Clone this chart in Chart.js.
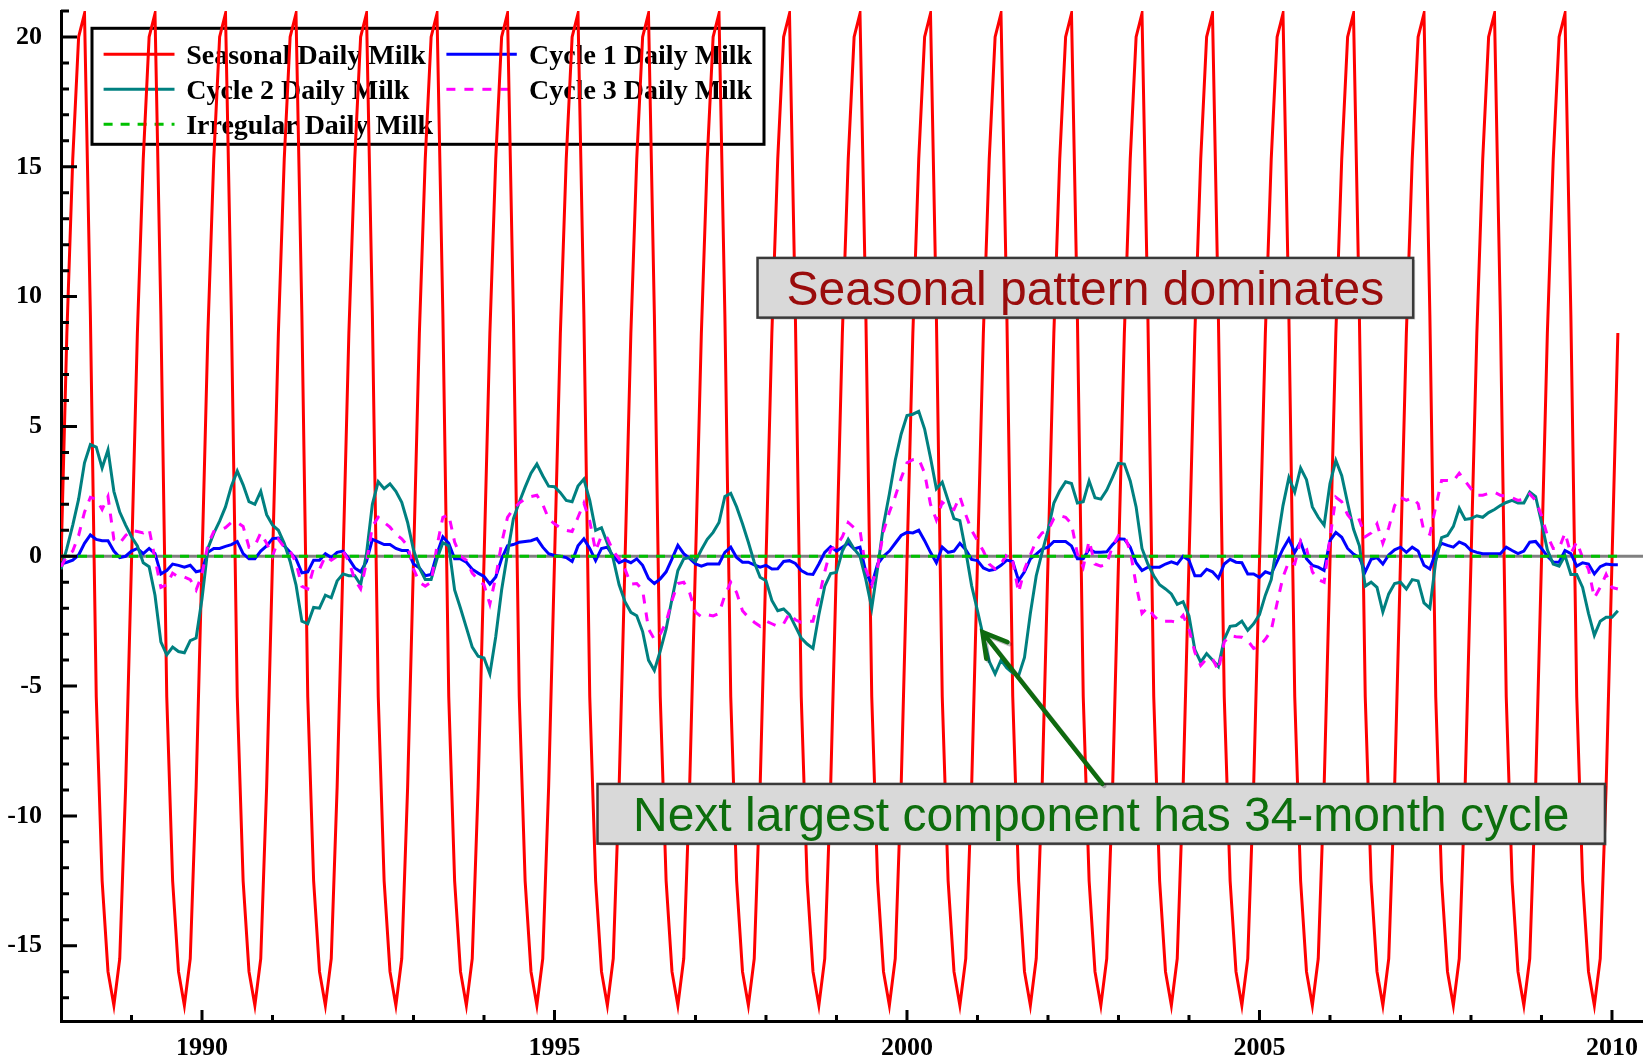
<!DOCTYPE html>
<html>
<head>
<meta charset="utf-8">
<script src="https://cdn.jsdelivr.net/npm/chart.js@4.4.0/dist/chart.umd.min.js"></script>
<style>
html,body{margin:0;padding:0;background:#ffffff;overflow:hidden;}
#wrap{position:relative;width:1643px;height:1057px;}
</style>
</head>
<body>
<div id="wrap"><canvas id="c"></canvas></div>
<script>
// ---------------- data ----------------
const startYear = 1988;            // monthly observations from January 1988
const seriesNames = ['Seasonal Daily Milk', 'Cycle 1 Daily Milk', 'Cycle 2 Daily Milk', 'Cycle 3 Daily Milk', 'Irregular Daily Milk'];
const xTickYears = [1990, 1995, 2000, 2005, 2010];
const yTickValues = [-15, -10, -5, 0, 5, 10, 15, 20];

const seasonal = [
  -0.2, 8.6, 15.3, 20.0, 20.9, 9.3, -5.4, -12.5, -16.0, -17.3, -15.5, -8.9,
  -0.2, 8.6, 15.3, 20.0, 20.9, 9.3, -5.4, -12.5, -16.0, -17.3, -15.5, -8.9,
  -0.2, 8.6, 15.3, 20.0, 20.9, 9.3, -5.4, -12.5, -16.0, -17.3, -15.5, -8.9,
  -0.2, 8.6, 15.3, 20.0, 20.9, 9.3, -5.4, -12.5, -16.0, -17.3, -15.5, -8.9,
  -0.2, 8.6, 15.3, 20.0, 20.9, 9.3, -5.4, -12.5, -16.0, -17.3, -15.5, -8.9,
  -0.2, 8.6, 15.3, 20.0, 20.9, 9.3, -5.4, -12.5, -16.0, -17.3, -15.5, -8.9,
  -0.2, 8.6, 15.3, 20.0, 20.9, 9.3, -5.4, -12.5, -16.0, -17.3, -15.5, -8.9,
  -0.2, 8.6, 15.3, 20.0, 20.9, 9.3, -5.4, -12.5, -16.0, -17.3, -15.5, -8.9,
  -0.2, 8.6, 15.3, 20.0, 20.9, 9.3, -5.4, -12.5, -16.0, -17.3, -15.5, -8.9,
  -0.2, 8.6, 15.3, 20.0, 20.9, 9.3, -5.4, -12.5, -16.0, -17.3, -15.5, -8.9,
  -0.2, 8.6, 15.3, 20.0, 20.9, 9.3, -5.4, -12.5, -16.0, -17.3, -15.5, -8.9,
  -0.2, 8.6, 15.3, 20.0, 20.9, 9.3, -5.4, -12.5, -16.0, -17.3, -15.5, -8.9,
  -0.2, 8.6, 15.3, 20.0, 20.9, 9.3, -5.4, -12.5, -16.0, -17.3, -15.5, -8.9,
  -0.2, 8.6, 15.3, 20.0, 20.9, 9.3, -5.4, -12.5, -16.0, -17.3, -15.5, -8.9,
  -0.2, 8.6, 15.3, 20.0, 20.9, 9.3, -5.4, -12.5, -16.0, -17.3, -15.5, -8.9,
  -0.2, 8.6, 15.3, 20.0, 20.9, 9.3, -5.4, -12.5, -16.0, -17.3, -15.5, -8.9,
  -0.2, 8.6, 15.3, 20.0, 20.9, 9.3, -5.4, -12.5, -16.0, -17.3, -15.5, -8.9,
  -0.2, 8.6, 15.3, 20.0, 20.9, 9.3, -5.4, -12.5, -16.0, -17.3, -15.5, -8.9,
  -0.2, 8.6, 15.3, 20.0, 20.9, 9.3, -5.4, -12.5, -16.0, -17.3, -15.5, -8.9,
  -0.2, 8.6, 15.3, 20.0, 20.9, 9.3, -5.4, -12.5, -16.0, -17.3, -15.5, -8.9,
  -0.2, 8.6, 15.3, 20.0, 20.9, 9.3, -5.4, -12.5, -16.0, -17.3, -15.5, -8.9,
  -0.2, 8.6, 15.3, 20.0, 20.9, 9.3, -5.4, -12.5, -16.0, -17.3, -15.5, -8.9,
  -0.2, 8.6
];

const cycle1 = [
  -0.3, -0.23, -0.15, 0.05, 0.5, 0.82, 0.65, 0.6, 0.6, 0.2, -0.05, 0.0,
  0.2, 0.3, 0.1, 0.3, 0.1, -0.68, -0.55, -0.3, -0.35, -0.42, -0.35, -0.6,
  -0.55, 0.15, 0.3, 0.3, 0.38, 0.45, 0.57, 0.1, -0.1, -0.1, 0.2, 0.4,
  0.68, 0.7, 0.4, 0.15, -0.1, -0.64, -0.6, -0.15, -0.15, 0.1, -0.05, 0.15,
  0.2, -0.1, -0.45, -0.6, -0.2, 0.65, 0.55, 0.45, 0.45, 0.3, 0.22, 0.22,
  -0.3, -0.45, -0.75, -0.7, 0.1, 0.75, 0.5, -0.1, -0.1, -0.23, -0.5, -0.65,
  -0.78, -1.07, -0.8, -0.1, 0.4, 0.45, 0.54, 0.57, 0.6, 0.68, 0.35, 0.1,
  0.03, 0.0, -0.05, -0.2, 0.4, 0.67, 0.3, -0.17, 0.3, 0.35, 0.0, -0.25,
  -0.15, -0.25, -0.1, -0.35, -0.85, -1.05, -0.87, -0.6, -0.1, 0.42, 0.1, -0.08,
  -0.3, -0.38, -0.3, -0.3, -0.3, 0.15, 0.35, -0.05, -0.23, -0.23, -0.33, -0.42,
  -0.35, -0.49, -0.48, -0.2, -0.17, -0.28, -0.55, -0.68, -0.7, -0.3, 0.15, 0.37,
  0.2, 0.35, 0.5, 0.28, 0.35, -0.6, -1.1, -0.3, 0.0, 0.2, 0.5, 0.8,
  0.92, 0.9, 1.0, 0.6, 0.15, -0.25, 0.35, 0.15, 0.2, 0.5, 0.25, -0.12,
  -0.17, -0.45, -0.55, -0.5, -0.35, -0.15, -0.2, -0.94, -0.6, -0.1, 0.08, 0.28,
  0.35, 0.57, 0.57, 0.57, 0.4, -0.1, -0.1, 0.28, 0.15, 0.15, 0.17, 0.45,
  0.67, 0.66, 0.35, -0.25, -0.55, -0.42, -0.42, -0.42, -0.3, -0.22, -0.3, 0.0,
  -0.15, -0.75, -0.75, -0.5, -0.6, -0.85, -0.3, -0.12, -0.23, -0.25, -0.68, -0.68,
  -0.81, -0.6, -0.68, -0.2, 0.28, 0.67, 0.15, 0.55, -0.1, -0.35, -0.42, -0.55,
  0.6, 0.92, 0.73, 0.3, 0.08, -0.05, -0.6, -0.12, -0.05, -0.3, 0.05, 0.25,
  0.35, 0.15, 0.35, 0.2, -0.35, -0.49, 0.15, 0.5, 0.42, 0.35, 0.55, 0.45,
  0.22, 0.15, 0.1, 0.1, 0.1, 0.1, 0.35, 0.22, 0.1, 0.2, 0.54, 0.57,
  0.3, 0.0, -0.22, -0.23, 0.22, 0.1, -0.38, -0.25, -0.3, -0.68, -0.4, -0.3,
  -0.33, -0.33
];

const cycle2 = [
  -0.5, 0.3, 1.2, 2.2, 3.6, 4.3, 4.2, 3.4, 4.1, 2.5, 1.7, 1.2,
  0.75, 0.4, -0.25, -0.4, -1.5, -3.3, -3.8, -3.5, -3.67, -3.72, -3.25, -3.15,
  -1.64, 0.3, 0.88, 1.35, 1.9, 2.7, 3.28, 2.75, 2.1, 2.0, 2.5, 1.6,
  1.2, 1.0, 0.5, -0.2, -1.1, -2.5, -2.6, -1.97, -2.0, -1.5, -1.6, -0.95,
  -0.68, -0.75, -0.75, -1.1, 0.1, 2.0, 2.87, 2.6, 2.79, 2.5, 2.08, 1.3,
  0.25, -0.45, -0.9, -0.9, -0.1, 0.52, 0.4, -1.3, -2.0, -2.75, -3.5, -3.85,
  -3.92, -4.53, -3.1, -1.3, 0.1, 1.44, 2.08, 2.66, 3.2, 3.55, 3.1, 2.7,
  2.68, 2.45, 2.15, 2.1, 2.7, 2.97, 2.15, 1.0, 1.1, 0.5, -0.1, -1.1,
  -1.75, -2.16, -2.29, -2.9, -4.0, -4.4, -3.65, -2.8, -1.65, -0.55, -0.1, -0.05,
  -0.2, 0.25, 0.65, 0.92, 1.3, 2.3, 2.42, 1.9, 1.25, 0.54, -0.23, -0.81,
  -0.94, -1.7, -2.1, -2.03, -2.25, -2.7, -3.15, -3.38, -3.55, -2.25, -1.15, -0.67,
  -0.62, 0.2, 0.65, 0.28, 0.0, -0.9, -2.0, -0.45, 1.2, 2.4, 3.7, 4.7,
  5.42, 5.47, 5.58, 4.9, 3.8, 2.6, 2.85, 2.15, 1.45, 1.37, 0.2, -1.13,
  -2.1, -3.1, -4.05, -4.53, -4.0, -4.3, -4.5, -4.6, -3.9, -2.2, -0.75, 0.15,
  1.0, 2.05, 2.52, 2.87, 2.8, 2.05, 2.1, 2.9, 2.25, 2.2, 2.55, 3.05,
  3.58, 3.55, 2.9, 1.9, 0.3, -0.3, -0.75, -1.1, -1.26, -1.45, -1.85, -1.75,
  -2.3, -3.6, -4.08, -3.75, -4.0, -4.25, -3.2, -2.7, -2.67, -2.5, -2.85, -2.6,
  -2.25, -1.5, -0.9, 0.5, 1.95, 3.03, 2.47, 3.4, 2.95, 1.9, 1.5, 1.2,
  2.8, 3.69, 3.1, 2.05, 1.05, 0.4, -1.15, -1.0, -1.2, -2.15, -1.45, -1.05,
  -1.0, -1.26, -0.9, -0.95, -1.8, -2.0, -0.2, 0.72, 0.8, 1.15, 1.85, 1.42,
  1.45, 1.56, 1.5, 1.68, 1.8, 1.95, 2.07, 2.15, 2.05, 2.05, 2.47, 2.3,
  1.31, 0.25, -0.3, -0.38, 0.03, -0.7, -0.7, -1.2, -2.2, -3.05, -2.5, -2.35,
  -2.35, -2.1
];

const cycle3 = [
  -0.4, 0.0, 0.2, 0.8, 1.7, 2.27, 2.2, 1.8, 2.3, 0.65, 0.5, 0.8,
  1.0, 0.95, 0.9, 1.05, -0.1, -1.2, -1.1, -0.65, -0.8, -0.8, -0.9, -1.3,
  -0.7, 0.45, 0.95, 1.0, 1.1, 1.3, 1.3, 1.15, 0.35, 0.4, 0.9, 0.5,
  0.0, 0.65, 0.35, 0.2, -0.25, -1.16, -1.26, -0.45, -0.5, 0.0, -0.15, 0.0,
  0.2, -0.2, -0.9, -1.26, -0.25, 1.15, 1.5, 1.3, 1.12, 0.85, 0.67, 0.4,
  -0.49, -1.0, -1.15, -1.0, 0.4, 1.5, 1.6, 0.55, 0.0, -0.15, -0.65, -0.9,
  -1.1, -1.84, -0.8, 0.5, 1.5, 1.82, 2.05, 2.2, 2.3, 2.35, 2.0, 1.44,
  1.25, 1.1, 1.0, 0.95, 1.5, 2.05, 1.35, 0.2, 0.8, 0.7, 0.2, -0.1,
  -0.5, -1.07, -1.05, -1.3, -2.8, -3.2, -3.0, -2.54, -1.7, -1.05, -1.0, -1.4,
  -2.15, -2.33, -2.25, -2.3, -2.2, -1.5, -1.0, -1.4, -2.1, -2.35, -2.54, -2.7,
  -2.5, -2.6, -2.7, -2.6, -2.2, -2.45, -2.55, -2.5, -2.5, -1.6, -0.6, 0.25,
  0.4, 0.75, 1.3, 1.1, 1.0, -0.5, -1.1, -0.4, 0.95, 1.7, 2.3, 3.0,
  3.6, 3.72, 3.75, 3.2, 2.0, 1.4, 2.08, 1.9, 1.8, 2.3, 1.6, 1.0,
  0.6, 0.2, -0.3, -0.49, -0.3, 0.08, -0.2, -1.4, -0.5, 0.05, 0.6, 0.9,
  1.0, 1.45, 1.57, 1.5, 1.25, 0.1, -0.42, 0.6, -0.3, -0.38, -0.3, 0.4,
  0.8, 0.8, 0.2, -1.1, -2.2, -1.97, -2.3, -2.5, -2.5, -2.5, -2.55, -2.28,
  -2.8, -3.7, -4.21, -3.95, -3.95, -4.4, -3.3, -3.06, -3.1, -3.12, -3.25, -3.55,
  -3.45, -3.2, -2.85, -1.8, -0.8, -0.2, -0.3, 0.6, 0.3, -0.6, -0.9, -1.0,
  0.7, 2.27, 2.1, 1.6, 1.31, 1.4, 0.75, 0.9, 1.25, 0.5, 1.1, 1.95,
  2.27, 2.15, 2.25, 2.02, 0.95, 0.85, 1.9, 2.92, 2.92, 2.9, 3.2, 2.9,
  2.6, 2.35, 2.35, 2.42, 2.47, 2.35, 2.3, 2.25, 2.15, 2.2, 2.4, 2.15,
  1.57, 0.8, 0.3, 0.3, 0.9, 0.1, 0.55, -0.05, -0.5, -1.6, -1.2, -0.7,
  -1.2, -1.26
];

const irregular = [
  0,0,0,0,0,0,0,0,0,0,0,0, 0,0,0,0,0,0,0,0,0,0,0,0, 0,0,0,0,0,0,0,0,0,0,0,0,
  0,0,0,0,0,0,0,0,0,0,0,0, 0,0,0,0,0,0,0,0,0,0,0,0, 0,0,0,0,0,0,0,0,0,0,0,0,
  0,0,0,0,0,0,0,0,0,0,0,0, 0,0,0,0,0,0,0,0,0,0,0,0, 0,0,0,0,0,0,0,0,0,0,0,0,
  0,0,0,0,0,0,0,0,0,0,0,0, 0,0,0,0,0,0,0,0,0,0,0,0, 0,0,0,0,0,0,0,0,0,0,0,0,
  0,0,0,0,0,0,0,0,0,0,0,0, 0,0,0,0,0,0,0,0,0,0,0,0, 0,0,0,0,0,0,0,0,0,0,0,0,
  0,0,0,0,0,0,0,0,0,0,0,0, 0,0,0,0,0,0,0,0,0,0,0,0, 0,0,0,0,0,0,0,0,0,0,0,0,
  0,0,0,0,0,0,0,0,0,0,0,0, 0,0,0,0,0,0,0,0,0,0,0,0, 0,0,0,0,0,0,0,0,0,0,0,0,
  0,0,0,0,0,0,0,0,0,0,0,0, 0,0
];

// monthly time stamps (decimal years) for the x axis
const months = seasonal.map((_, i) => startYear + i / 12);

// annotation boxes (data coordinates) and arrow
const notes = [
  { text: 'Seasonal pattern dominates', color: '#9A0C0C', x0: 1997.88, x1: 2007.18, y0: 9.19, y1: 11.49 },
  { text: 'Next largest component has 34-month cycle', color: '#0D6E0D', x0: 1995.61, x1: 2009.90, y0: -11.07, y1: -8.77 }
];
const arrow = { fromX: 2002.77, fromY: -8.77, toX: 2001.07, toY: -2.92, color: '#0F6A0F' };

// ---------------- plugins ----------------
const zeroLine = {
  id: 'zeroLine',
  beforeDatasetsDraw(chart) {
    const { ctx, chartArea: a, scales: { y } } = chart;
    const py = y.getPixelForValue(0);
    ctx.save();
    ctx.strokeStyle = '#808080';
    ctx.lineWidth = 3;
    ctx.beginPath();
    ctx.moveTo(a.left, py);
    ctx.lineTo(a.right, py);
    ctx.stroke();
    ctx.restore();
  }
};

const boxLegend = {
  id: 'boxLegend',
  beforeDatasetsDraw(chart) {
    const { ctx, chartArea: a } = chart;
    const ds = chart.data.datasets;
    const bx = a.left + 31, by = a.top + 17.3, bw = 672, bh = 116;
    ctx.save();
    ctx.strokeStyle = '#000';
    ctx.lineWidth = 3;
    ctx.strokeRect(bx, by, bw, bh);
    const cols = [{ s0: 11.6, s1: 82.5, t: 94.2 }, { s0: 354.4, s1: 424.8, t: 437 }];
    const rows = [26, 61, 96];
    const slots = [[0, 0], [1, 0], [0, 1], [1, 1], [0, 2]];
    ctx.font = 'bold 28px "Liberation Serif", "Times New Roman", serif';
    ctx.textBaseline = 'alphabetic';
    ctx.textAlign = 'left';
    ds.forEach((d, i) => {
      const [c, r] = slots[i];
      const yy = by + rows[r];
      ctx.save();
      ctx.strokeStyle = d.borderColor;
      ctx.lineWidth = 3;
      ctx.setLineDash(d.borderDash || []);
      ctx.beginPath();
      ctx.moveTo(bx + cols[c].s0, yy);
      ctx.lineTo(bx + cols[c].s1, yy);
      ctx.stroke();
      ctx.restore();
      ctx.fillStyle = '#000';
      ctx.fillText(d.label, bx + cols[c].t, yy + 10);
    });
    ctx.restore();
  }
};

const innerTicks = {
  id: 'innerTicks',
  afterDatasetsDraw(chart) {
    const { ctx, chartArea: a, scales: { x, y } } = chart;
    ctx.save();
    ctx.strokeStyle = '#000';
    ctx.lineWidth = 3;
    ctx.beginPath();
    for (let v = Math.ceil(y.min); v <= Math.floor(y.max); v++) {
      const py = y.getPixelForValue(v);
      const len = (v % 5 === 0) ? 16 : 8;
      ctx.moveTo(a.left, py);
      ctx.lineTo(a.left + len, py);
    }
    for (let yr = Math.ceil(x.min) + 1; yr <= Math.floor(x.max); yr++) {
      const px = x.getPixelForValue(yr);
      const len = (yr % 5 === 0) ? 11 : 6;
      ctx.moveTo(px, a.bottom);
      ctx.lineTo(px, a.bottom - len);
    }
    ctx.stroke();
    ctx.restore();
  }
};

const annotations = {
  id: 'annotations',
  afterDraw(chart) {
    const { ctx, scales: { x, y } } = chart;
    ctx.save();
    notes.forEach(n => {
      const L = x.getPixelForValue(n.x0), R = x.getPixelForValue(n.x1);
      const T = y.getPixelForValue(n.y1), B = y.getPixelForValue(n.y0);
      ctx.fillStyle = 'rgba(0,0,0,0.18)';
      ctx.fillRect(L + 2, T + 2, R - L, B - T);
      ctx.fillStyle = '#D9D9D9';
      ctx.fillRect(L, T, R - L, B - T);
      ctx.strokeStyle = '#3A3A3A';
      ctx.lineWidth = 2.5;
      ctx.strokeRect(L, T, R - L, B - T);
      ctx.fillStyle = n.color;
      ctx.font = '48px "Liberation Sans", Arial, sans-serif';
      ctx.textAlign = 'center';
      ctx.textBaseline = 'alphabetic';
      ctx.fillText(n.text, (L + R) / 2, (T + B) / 2 + 17.2);
    });
    // arrow
    const x1 = x.getPixelForValue(arrow.fromX), y1 = y.getPixelForValue(arrow.fromY);
    const x2 = x.getPixelForValue(arrow.toX), y2 = y.getPixelForValue(arrow.toY);
    const ang = Math.atan2(y1 - y2, x1 - x2);
    const head = 27, spread = Math.PI / 6;
    ctx.strokeStyle = arrow.color;
    ctx.lineWidth = 4.5;
    ctx.lineCap = 'round';
    ctx.shadowColor = 'rgba(0,0,0,0.25)';
    ctx.shadowOffsetX = 2;
    ctx.shadowOffsetY = 2;
    ctx.beginPath();
    ctx.moveTo(x1, y1);
    ctx.lineTo(x2, y2);
    ctx.moveTo(x2 + head * Math.cos(ang - spread), y2 + head * Math.sin(ang - spread));
    ctx.lineTo(x2, y2);
    ctx.lineTo(x2 + head * Math.cos(ang + spread), y2 + head * Math.sin(ang + spread));
    ctx.stroke();
    ctx.restore();
  }
};

// ---------------- chart ----------------
function mk(label, arr, color, dash, order) {
  return {
    label: label,
    data: arr.map((v, i) => ({ x: months[i], y: v })),
    borderColor: color,
    backgroundColor: color,
    borderWidth: 3,
    borderDash: dash,
    pointRadius: 0,
    fill: false,
    tension: 0,
    order: order
  };
}

const tickFont = { family: '"Liberation Serif", "Times New Roman", serif', size: 26, weight: 'bold' };

new Chart(document.getElementById('c'), {
  type: 'line',
  data: {
    datasets: [
      mk(seriesNames[0], seasonal, '#FF0000', [], 5),
      mk(seriesNames[1], cycle1, '#0000FF', [], 4),
      mk(seriesNames[2], cycle2, '#008080', [], 3),
      mk(seriesNames[3], cycle3, '#FF00FF', [9, 9], 2),
      mk(seriesNames[4], irregular, '#00C000', [9, 8], 1)
    ]
  },
  options: {
    responsive: true,
    maintainAspectRatio: false,
    animation: false,
    devicePixelRatio: 1,
    events: [],
    layout: { padding: { top: 11, left: 0, right: 0, bottom: 0 } },
    plugins: { legend: { display: false }, tooltip: { enabled: false } },
    scales: {
      x: {
        type: 'linear',
        min: 1988,
        max: 2010.44,
        afterBuildTicks: s => { s.ticks = xTickYears.map(v => ({ value: v })); },
        afterFit: s => { s.height = 36; s.paddingLeft = 0; s.paddingRight = 0; },
        grid: { display: false },
        border: { display: true, color: '#000', width: 3 },
        ticks: { font: tickFont, color: '#000', padding: 4, maxRotation: 0, autoSkip: false, callback: v => String(v) }
      },
      y: {
        type: 'linear',
        min: -17.9,
        max: 21,
        afterBuildTicks: s => { s.ticks = yTickValues.map(v => ({ value: v })); },
        afterFit: s => { s.width = 61; s.paddingTop = 0; s.paddingBottom = 0; },
        grid: { display: false },
        border: { display: true, color: '#000', width: 3 },
        ticks: { font: tickFont, color: '#000', padding: 11, autoSkip: false, callback: v => String(v) }
      }
    }
  },
  plugins: [zeroLine, boxLegend, innerTicks, annotations]
});
</script>
</body>
</html>
